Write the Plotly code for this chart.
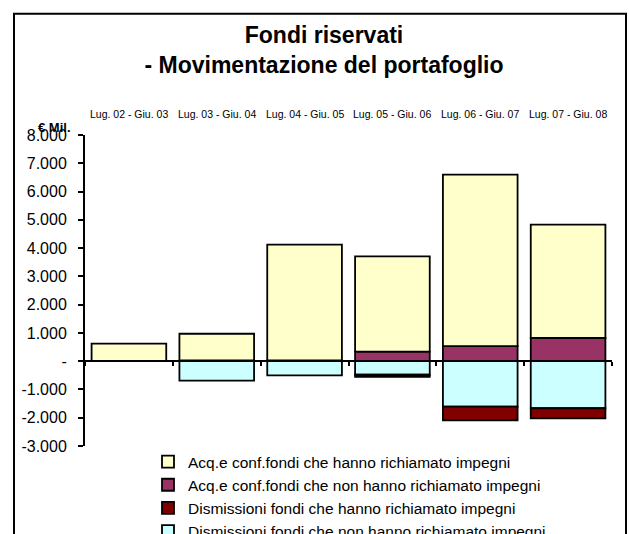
import plotly.graph_objects as go

categories = ["Lug. 02 - Giu. 03", "Lug. 03 - Giu. 04", "Lug. 04 - Giu. 05",
              "Lug. 05 - Giu. 06", "Lug. 06 - Giu. 07", "Lug. 07 - Giu. 08"]
acq_richiamato = [620, 940, 4090, 3370, 6070, 4010]
acq_non_richiamato = [None, 30, 30, 335, 530, 820]
dism_richiamato = [None, None, None, -70, -485, -360]
dism_non_richiamato = [None, -690, -500, -480, -1610, -1665]

y_tickvals = [-3000, -2000, -1000, 0, 1000, 2000, 3000, 4000, 5000, 6000, 7000, 8000]
y_ticktext = ["-3.000", "-2.000", "-1.000", "-", "1.000", "2.000", "3.000",
              "4.000", "5.000", "6.000", "7.000", "8.000"]
y_range = [-3000, 8000]

names = ["Acq.e conf.fondi che hanno richiamato impegni",
         "Acq.e conf.fondi che non hanno richiamato impegni",
         "Dismissioni fondi che hanno richiamato impegni",
         "Dismissioni fondi che non hanno richiamato impegni"]
colors = ["#FFFFCC", "#993366", "#800000", "#CCFFFF"]

FONT = "Arial, 'Liberation Sans', sans-serif"

# The figure is taller than the 534px window; like the original chart,
# the bottom of the legend is cut by the window edge.
W, H = 629, 560
ML, MR, MT = 85, 17, 135
PLOT_BOTTOM = 448
MB = H - PLOT_BOTTOM
PW, PH = W - ML - MR, H - MT - MB

def px_x(x):
    return (x - ML) / PW

def px_y(y):
    return (H - MB - y) / PH

fig = go.Figure()
# order: traces nearest zero first
order = [(acq_non_richiamato, 1), (acq_richiamato, 0),
         (dism_non_richiamato, 3), (dism_richiamato, 2)]
for vals, i in order:
    fig.add_trace(go.Bar(
        x=categories, y=vals, name=names[i],
        marker=dict(color=colors[i], line=dict(color="black", width=1.8)),
        legendrank=i + 1,
    ))

zero_pos = (0 - y_range[0]) / (y_range[1] - y_range[0])

for c in categories:
    fig.add_annotation(x=c, xref="x", y=1, yref="paper", yanchor="bottom",
                       yshift=13, text=c, showarrow=False,
                       font=dict(family=FONT, size=10.5, color="black"))

fig.add_annotation(x=px_x(73), xref="paper", y=px_y(127), yref="paper",
                   xanchor="right", yanchor="middle", text="<b>€ Mil.</b>",
                   showarrow=False, font=dict(family=FONT, size=13, color="black"))

fig.add_shape(type="rect", xref="paper", yref="paper",
              x0=px_x(14), x1=px_x(626), y0=px_y(600), y1=px_y(13),
              line=dict(color="black", width=2), fillcolor="rgba(0,0,0,0)")

fig.update_layout(
    width=W, height=H, autosize=False,
    margin=dict(l=ML, r=MR, t=MT, b=MB),
    paper_bgcolor="white", plot_bgcolor="white",
    barmode="relative", bargap=0.15,
    font=dict(family=FONT, color="black"),
    title=dict(text="<b>Fondi riservati<br>- Movimentazione del portafoglio</b>",
               x=324 / W, xref="container", xanchor="center",
               y=1 - 43 / H, yref="container", yanchor="top",
               font=dict(family=FONT, size=23, color="black")),
    xaxis=dict(type="category", range=[-0.5, 5.5], anchor="free",
               position=zero_pos, showline=True, linecolor="black", linewidth=2,
               ticks="outside", tickson="boundaries", ticklen=4, tickwidth=1.5,
               tickcolor="black", showticklabels=False, showgrid=False,
               zeroline=False),
    yaxis=dict(range=y_range, tickvals=y_tickvals, ticktext=y_ticktext,
               showline=True, linecolor="black", linewidth=2, ticks="outside",
               ticklen=5, tickwidth=1.5, tickcolor="black", showgrid=False,
               ticklabelstandoff=8,
               zeroline=False, tickfont=dict(family=FONT, size=16, color="black")),
    legend=dict(x=px_x(148), xanchor="left", y=px_y(447), yanchor="top",
                font=dict(family=FONT, size=15.5, color="black"),
                bgcolor="rgba(0,0,0,0)", traceorder="normal"),
    showlegend=True,
)

fig.write_html(
    "out.html",
    config={"displayModeBar": False},
    post_script="document.body.style.margin='0';"
                "document.body.style.overflow='hidden';",
)
